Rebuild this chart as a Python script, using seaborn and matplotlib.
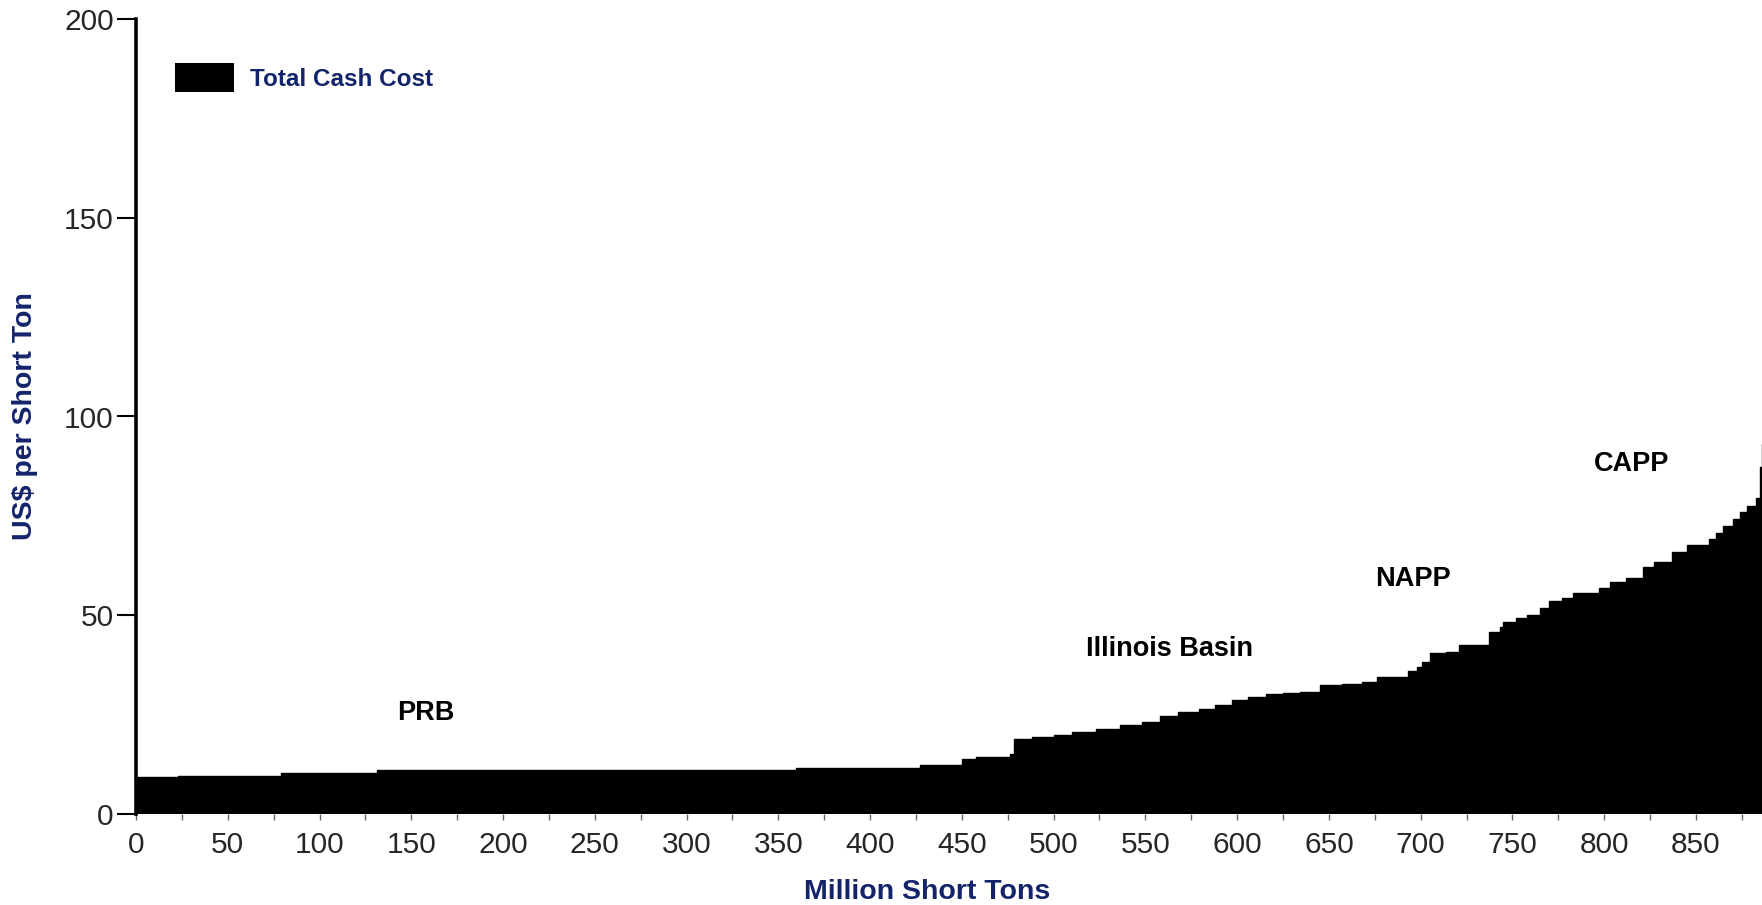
import numpy as np
import pandas as pd
import matplotlib
matplotlib.use("Agg")
import matplotlib.pyplot as plt
import matplotlib.ticker as ticker
from matplotlib.patches import Patch
import seaborn as sns

# --- data: cost curve segments (cumulative million short tons, US$/short ton) ---
seg_start = [0, 23, 79, 131.5, 359.5, 427, 450, 457.5, 476, 478.5,
             488, 500, 510, 523, 536, 548, 558, 568, 579, 588,
             597, 606, 616, 625, 634, 645, 657, 668, 676, 693,
             698, 701, 705, 714, 721, 737, 743, 745, 752, 758,
             765, 770, 777, 783, 797, 803, 812, 821, 827, 837,
             845, 857, 861, 865, 870, 874, 878, 883, 885, 886]
seg_end_last = 888
cost = [9.3, 9.6, 10.4, 11.1, 11.5, 12.3, 13.8, 14.4, 15.2, 18.8,
        19.4, 19.9, 20.7, 21.4, 22.4, 23.2, 24.7, 25.7, 26.3, 27.4,
        28.7, 29.5, 30.2, 30.5, 30.8, 32.5, 32.7, 33.3, 34.4, 36.0,
        37.0, 38.3, 40.4, 40.8, 42.5, 45.7, 47.1, 48.2, 49.2, 50.0,
        51.9, 53.5, 54.4, 55.7, 56.8, 58.4, 59.3, 62.2, 63.5, 65.8,
        67.7, 69.1, 70.6, 72.5, 74.3, 76.0, 77.5, 79.4, 87.4, 93.2]

regions = ["PRB", "Illinois Basin", "NAPP", "CAPP"]
region_x = [158, 563, 696, 815]
region_y = [25.5, 41.5, 59.0, 88.0]

x_ticks = list(range(0, 851, 50))
y_ticks = [0, 50, 100, 150, 200]

navy = "#13246b"

# step curve: repeat the last level at the closing edge
df = pd.DataFrame({"tons": seg_start + [seg_end_last],
                   "cost": cost + [cost[-1]]})

sns.set_theme(style="white")
plt.rcParams["font.family"] = ["Liberation Sans", "DejaVu Sans"]

fig = plt.figure(figsize=(17.62, 9.05), dpi=100)
ax = fig.add_axes([136 / 1762, 91 / 905, 1626 / 1762, 795 / 905])

sns.lineplot(data=df, x="tons", y="cost", drawstyle="steps-post",
             color="black", linewidth=1, ax=ax)
ax.fill_between(df["tons"], df["cost"], 0, step="post", color="black",
                linewidth=0)

ax.set_xlim(0, 886)
ax.set_ylim(0, 200)
ax.set_xlabel("")
ax.set_ylabel("")

for side in ["top", "right", "bottom"]:
    ax.spines[side].set_visible(False)
ax.spines["left"].set_color("black")
ax.spines["left"].set_linewidth(2.6)
ax.spines["left"].set_zorder(5)

ax.set_yticks(y_ticks)
ax.set_xticks(x_ticks)
ax.xaxis.set_minor_locator(ticker.MultipleLocator(25))
ax.tick_params(axis="y", which="major", left=True, length=14, width=1.5,
               color="black", labelsize=21.5, pad=2)
ax.tick_params(axis="x", which="both", bottom=True, length=4, width=1,
               color="#666666", labelsize=21.5, pad=8)
ax.tick_params(axis="x", which="minor", labelbottom=False)

for name, rx, ry in zip(regions, region_x, region_y):
    ax.text(rx, ry, name, fontsize=19.5, fontweight="bold", color="black",
            ha="center", va="center")

handle = Patch(facecolor="black", edgecolor="none")
ax.legend(handles=[handle], labels=["Total Cash Cost"], loc="center left",
          bbox_to_anchor=(0.024, 0.926), frameon=False, borderpad=0,
          borderaxespad=0, handlelength=2.43, handleheight=1.48,
          handletextpad=0.66, prop={"weight": "bold", "size": 17.5},
          labelcolor=navy)

fig.text(927 / 1762, 1 - 892 / 905, "Million Short Tons", fontsize=20.5,
         fontweight="bold", color=navy, ha="center", va="center")
fig.text(25 / 1762, 1 - 416 / 905, "US$ per Short Ton", fontsize=20.5,
         fontweight="bold", color=navy, ha="center", va="center", rotation=90)

fig.savefig("out.png", dpi=100)
